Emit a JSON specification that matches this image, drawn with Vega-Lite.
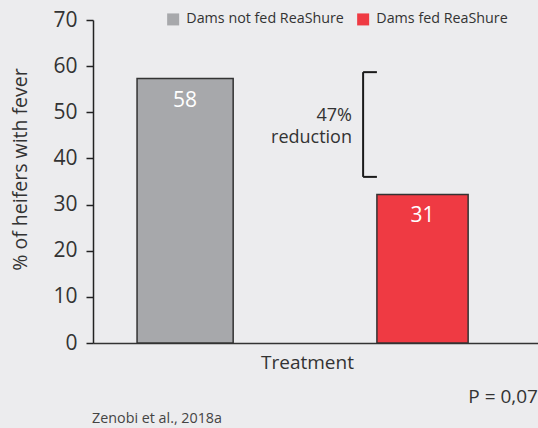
{
  "$schema": "https://vega.github.io/schema/vega-lite/v6.json",
  "width": 445,
  "height": 323,
  "autosize": {"type": "none"},
  "padding": {"left": 93, "top": 20, "right": 0, "bottom": 85},
  "background": "#ececee",
  "config": {"view": {"stroke": null}, "font": "Open Sans"},
  "datasets": {
    "bars": [
      {"group": "Dams not fed ReaShure", "x0": 9.9, "x1": 31.5, "xm": 20.7, "value": 57.3, "label": "58"},
      {"group": "Dams fed ReaShure", "x0": 63.8, "x1": 84.3, "xm": 74.05, "value": 32.2, "label": "31"}
    ],
    "bracket": [
      {"x": 60.7, "x2": 60.7, "y": 36.0, "y2": 58.7},
      {"x": 60.7, "x2": 63.8, "y": 58.7, "y2": 58.7},
      {"x": 60.7, "x2": 63.8, "y": 36.0, "y2": 36.0}
    ],
    "notes": [
      {"text": "47%", "x": 58.2, "y": 49.2},
      {"text": "reduction", "x": 58.2, "y": 44.4}
    ],
    "pnote": [{"text": "P = 0,07", "x": 100, "y": -11.7}],
    "source": [{"text": "Zenobi et al., 2018a", "x": -0.2, "y": -16.5}]
  },
  "layer": [
    {
      "data": {"name": "bars"},
      "mark": {"type": "bar", "stroke": "#333333", "strokeWidth": 1.5},
      "encoding": {
        "x": {
          "field": "x0", "type": "quantitative", "title": "Treatment",
          "scale": {"domain": [0, 100], "nice": false, "zero": false},
          "axis": {
            "ticks": false, "labels": false, "grid": false,
            "domainColor": "#333333", "domainWidth": 1.5,
            "titleFontSize": 19, "titleFontWeight": "normal", "titleColor": "#333333",
            "titleX": 214, "titleY": 19, "titleBaseline": "middle"
          }
        },
        "x2": {"field": "x1"},
        "y": {
          "field": "value", "type": "quantitative", "title": "% of heifers with fever",
          "scale": {"domain": [0, 70], "nice": false},
          "axis": {
            "values": [0, 10, 20, 30, 40, 50, 60, 70],
            "grid": false, "domainColor": "#222222", "domainWidth": 1.5,
            "tickColor": "#222222", "tickSize": 7, "tickWidth": 1.5,
            "labelFontSize": 21, "labelColor": "#333333", "labelPadding": 9,
            "titleFontSize": 19.5, "titleFontWeight": "normal", "titleColor": "#333333",
            "titleX": -73, "titleY": 149, "titleBaseline": "middle", "titleAlign": "center", "titleAngle": -90
          }
        },
        "y2": {"datum": 0},
        "color": {
          "field": "group", "type": "nominal",
          "scale": {"domain": ["Dams not fed ReaShure", "Dams fed ReaShure"], "range": ["#a7a8ab", "#ef3a43"]},
          "legend": {
            "title": null, "orient": "none", "legendX": 73, "legendY": -8,
            "direction": "horizontal", "symbolType": "square", "symbolSize": 144,
            "symbolStrokeWidth": 0, "symbolStrokeColor": "transparent",
            "labelFontSize": 14.3, "labelColor": "#333333", "labelOffset": 6, "columnPadding": 12
          }
        }
      }
    },
    {
      "data": {"name": "bars"},
      "mark": {"type": "text", "color": "white", "fontSize": 21, "baseline": "middle", "dy": 22},
      "encoding": {
        "x": {"field": "xm", "type": "quantitative", "title": "Treatment"},
        "y": {"field": "value", "type": "quantitative", "title": "% of heifers with fever"},
        "text": {"field": "label"}
      }
    },
    {
      "data": {"name": "bracket"},
      "mark": {"type": "rule", "color": "#1a1a1a", "strokeWidth": 2},
      "encoding": {
        "x": {"field": "x", "type": "quantitative", "title": "Treatment"},
        "x2": {"field": "x2"},
        "y": {"field": "y", "type": "quantitative", "title": "% of heifers with fever"},
        "y2": {"field": "y2"}
      }
    },
    {
      "data": {"name": "notes"},
      "mark": {"type": "text", "align": "right", "baseline": "middle", "fontSize": 18, "color": "#333333"},
      "encoding": {
        "x": {"field": "x", "type": "quantitative", "title": "Treatment"},
        "y": {"field": "y", "type": "quantitative", "title": "% of heifers with fever"},
        "text": {"field": "text"}
      }
    },
    {
      "data": {"name": "pnote"},
      "mark": {"type": "text", "align": "right", "baseline": "middle", "fontSize": 19, "color": "#333333"},
      "encoding": {
        "x": {"field": "x", "type": "quantitative", "title": "Treatment"},
        "y": {"field": "y", "type": "quantitative", "title": "% of heifers with fever"},
        "text": {"field": "text"}
      }
    },
    {
      "data": {"name": "source"},
      "mark": {"type": "text", "align": "left", "baseline": "middle", "fontSize": 14.3, "color": "#444444"},
      "encoding": {
        "x": {"field": "x", "type": "quantitative", "title": "Treatment"},
        "y": {"field": "y", "type": "quantitative", "title": "% of heifers with fever"},
        "text": {"field": "text"}
      }
    }
  ]
}
